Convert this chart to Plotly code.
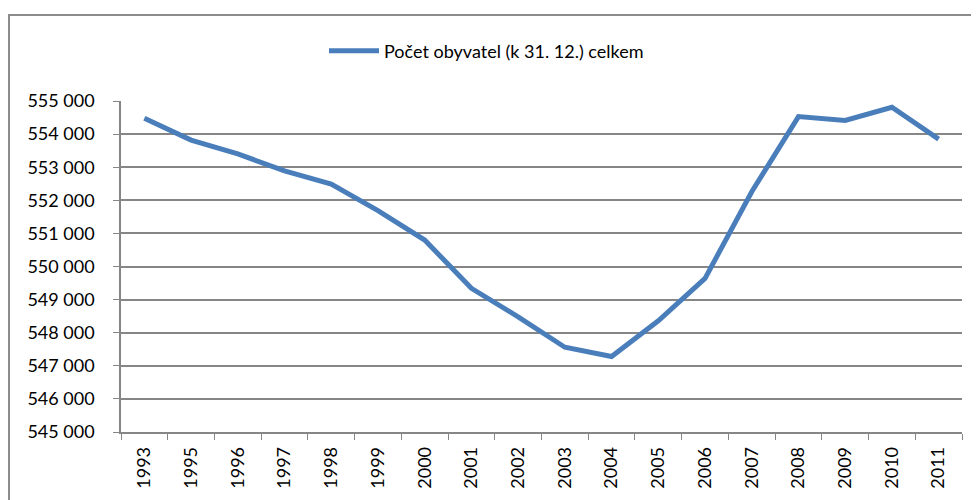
import plotly.graph_objects as go

years = ["1993", "1995", "1996", "1997", "1998", "1999", "2000", "2001", "2002",
         "2003", "2004", "2005", "2006", "2007", "2008", "2009", "2010", "2011"]
population = [554480, 553820, 553400, 552890, 552490, 551690, 550800, 549340, 548480,
              547560, 547280, 548360, 549640, 552260, 554530, 554410, 554810, 553850]
series_name = "Počet obyvatel (k 31. 12.) celkem"
y_ticks = [545000 + 1000 * i for i in range(11)]

fig = go.Figure()
fig.add_trace(go.Scatter(
    x=years, y=population, mode="lines", name=series_name,
    line=dict(color="#4a7ebb", width=5),
))

# page has 8px body margin; figure placed at (8, 8)
OFF = 8
W, H = 979 - OFF, 500 - OFF
ml, mr, mt, mb = 121 - OFF, 17, 101 - OFF, 68
pw, ph = W - ml - mr, H - mt - mb

def px(x):  # page x -> paper
    return (x - OFF - ml) / pw

def py(y):  # page y -> paper
    return (H - mb - (y - OFF)) / ph

fig.add_shape(type="rect", xref="paper", yref="paper",
              x0=px(9), x1=px(1000), y0=py(520), y1=py(15),
              line=dict(color="#8c8c8c", width=2), fillcolor="rgba(0,0,0,0)", layer="below")

font = "Lato"
fig.update_layout(
    width=W, height=H,
    margin=dict(l=ml, r=mr, t=mt, b=mb, autoexpand=False),
    paper_bgcolor="white", plot_bgcolor="white",
    separators=", ",
    font=dict(family=font, size=18, color="black"),
    showlegend=True,
    legend=dict(orientation="h", x=px(324), xanchor="left", y=py(51), yanchor="middle",
                font=dict(size=18), itemwidth=50, bgcolor="rgba(0,0,0,0)"),
    xaxis=dict(
        type="category", range=[-0.5, len(years) - 0.5], tickangle=-90, tickson="boundaries",
        ticks="outside", ticklen=6, tickcolor="#868686", ticklabelstandoff=6,
        showline=True, linecolor="#868686", linewidth=1.5,
        showgrid=False, tickfont=dict(size=18), automargin=False,
    ),
    yaxis=dict(
        range=[545000, 555000], tickvals=y_ticks, tickformat=",d",
        ticks="outside", ticklen=6, tickcolor="#868686", ticklabelstandoff=15,
        showline=True, linecolor="#868686", linewidth=1.5,
        showgrid=True, gridcolor="#868686", gridwidth=1.5,
        zeroline=False, tickfont=dict(size=18), automargin=False,
    ),
)

fig.write_html("out.html")
